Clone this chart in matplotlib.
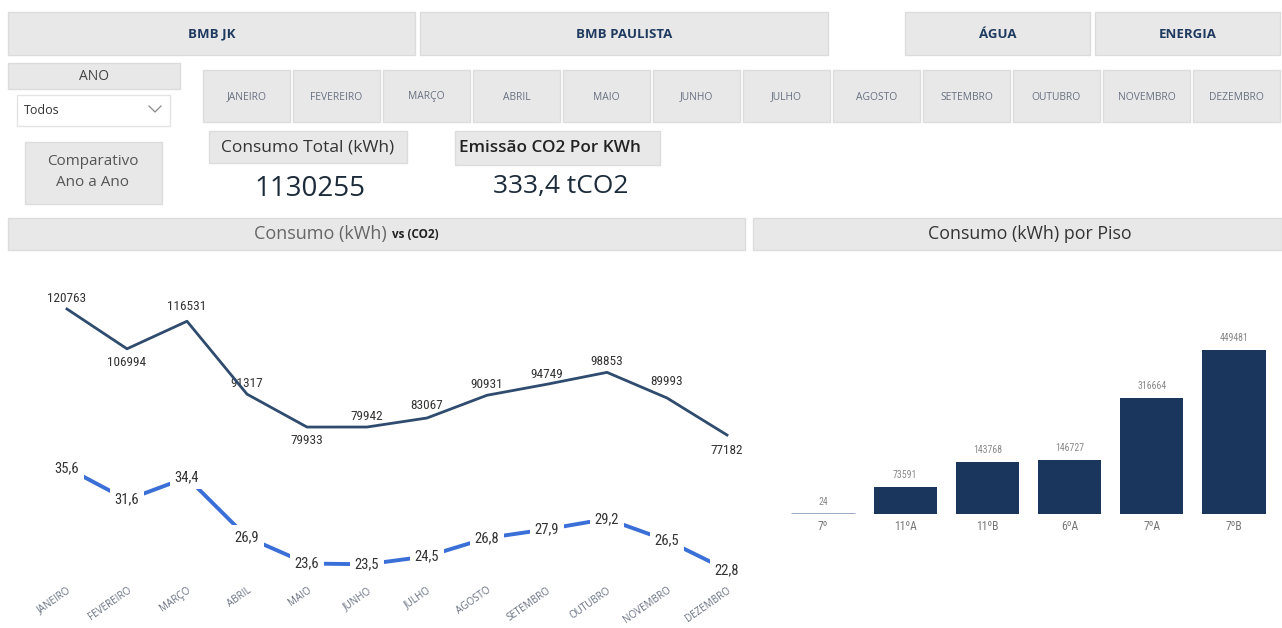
import matplotlib
matplotlib.use('Agg')
import matplotlib.pyplot as plt
from matplotlib.patches import Rectangle
from matplotlib import font_manager

# ---------------- data ----------------
months = ["JANEIRO", "FEVEREIRO", "MARÇO", "ABRIL", "MAIO", "JUNHO",
          "JULHO", "AGOSTO", "SETEMBRO", "OUTUBRO", "NOVEMBRO", "DEZEMBRO"]
consumo_kwh = [120763, 106994, 116531, 91317, 79933, 79942,
               83067, 90931, 94749, 98853, 89993, 77182]
co2 = [35.6, 31.6, 34.4, 26.9, 23.6, 23.5, 24.5, 26.8, 27.9, 29.2, 26.5, 22.8]
pisos = ["7º", "11ºA", "11ºB", "6ºA", "7ºA", "7ºB"]
consumo_piso = [24, 73591, 143768, 146727, 316664, 449481]
consumo_total = "1130255"
emissao_co2 = "333,4 tCO2"
locais = ["BMB JK", "BMB PAULISTA"]
tipos = ["ÁGUA", "ENERGIA"]

# ---------------- fonts ----------------
avail = {f.name for f in font_manager.fontManager.ttflist}
def pick(*names):
    for n in names:
        if n in avail:
            return n
    return 'DejaVu Sans'
NARROW = pick('Roboto Condensed', 'Liberation Sans Narrow', 'Open Sans Condensed', 'DejaVu Sans')
UI = pick('Open Sans', 'Noto Sans', 'DejaVu Sans')

W, H, DPI = 1282, 628, 100
fig = plt.figure(figsize=(W / DPI, H / DPI), dpi=DPI)
fig.patch.set_facecolor('white')

bg = fig.add_axes([0, 0, 1, 1])
bg.set_xlim(0, W)
bg.set_ylim(H, 0)
bg.axis('off')

BOX_FC = '#e8e8e8'
BOX_EC = '#dcdcdc'

def box(x0, y0, x1, y1, fc=BOX_FC, ec=BOX_EC, lw=1.0):
    bg.add_patch(Rectangle((x0, y0), x1 - x0, y1 - y0, facecolor=fc,
                           edgecolor=ec, linewidth=lw))

def px_axes(x0, y0, x1, y1):
    a = fig.add_axes([x0 / W, 1 - y1 / H, (x1 - x0) / W, (y1 - y0) / H])
    a.patch.set_alpha(0)
    return a

# ---------------- top buttons ----------------
NAVY_TXT = '#1f3a5f'
for (x0, x1), lab in zip([(8, 415), (420, 828)], locais):
    box(x0, 12, x1, 55)
    bg.text((x0 + x1) / 2, 34, lab, ha='center', va='center', fontsize=9.5,
            fontweight='bold', color=NAVY_TXT, family=UI)
for (x0, x1), lab in zip([(905, 1090), (1095, 1280)], tipos):
    box(x0, 12, x1, 55)
    bg.text((x0 + x1) / 2, 34, lab, ha='center', va='center', fontsize=9.5,
            fontweight='bold', color=NAVY_TXT, family=UI)

# ANO slicer
box(8, 63, 180, 89)
bg.text(94, 76, "ANO", ha='center', va='center', fontsize=10, color='#444', family=UI)
box(17, 95, 170, 126, fc='white', ec='#e4e4e4')
bg.text(24, 110.5, "Todos", ha='left', va='center', fontsize=9, color='#333', family=UI)
bg.plot([149, 155, 161], [106, 112, 106], color='#888', lw=0.9)

# month buttons
for i, m in enumerate(months):
    x0 = 203 + i * 90
    box(x0, 70, x0 + 87, 122)
    bg.text(x0 + 43.5, 97, m, ha='center', va='center', fontsize=7.4,
            color='#687080', family=UI)

# comparativo
box(25, 142, 162, 204)
bg.text(93, 172, "Comparativo\nAno a Ano", ha='center', va='center', fontsize=11,
        color='#555', family=UI, linespacing=1.55)

# KPI cards
box(209, 131, 407, 163)
bg.text(308, 147, "Consumo Total (kWh)", ha='center', va='center', fontsize=12.5,
        color='#333', family=UI)
bg.text(310, 189, consumo_total, ha='center', va='center', fontsize=20,
        color='#1c2b3a', family=UI)
box(455, 131, 660, 165)
bg.text(550, 148, "Emissão CO2 Por KWh", ha='center', va='center', fontsize=12.3,
        color='#222', family=UI, fontweight='semibold')
bg.text(561, 187, emissao_co2, ha='center', va='center', fontsize=19,
        color='#1c2b3a', family=UI)

# section headers
box(8, 218, 745, 250)
bg.text(387, 234, "Consumo (kWh)", ha='right', va='center', fontsize=13,
        color='#666', family=UI)
bg.text(392, 235, "vs (CO2)", ha='left', va='center', fontsize=8.5,
        color='#222', family=UI, fontweight='bold')
box(753, 218, 1282, 250)
bg.text(1030, 234, "Consumo (kWh) por Piso", ha='center', va='center', fontsize=12.8,
        color='#333', family=UI)

# ---------------- line chart ----------------
ax = px_axes(37, 280, 757, 585)
ax.set_xlim(-0.5, 11.5)
ax.set_ylim(25300, 130800)
x = list(range(len(months)))
ax.plot(x, consumo_kwh, color='#2f4b6e', lw=2.0, zorder=2)
up_offsets_px = [-11, 14, -15, -11, 13, -11, -12, -11, -10, -11, -16, 15]
for xi, v, off in zip(x, consumo_kwh, up_offsets_px):
    ax.annotate(f"{v}", (xi, v), xytext=(0, -off * 0.72), textcoords='offset points',
                ha='center', va='center', fontsize=9.5, color='#333', family=NARROW,
                zorder=1)
ax.set_xticks(x)
ax.set_xticklabels(months, rotation=35, ha='right', va='top', rotation_mode='anchor',
                   fontsize=7.1, color='#687080', family=UI)
ax.tick_params(axis='x', length=0, pad=0)
ax.set_yticks([])
for s in ax.spines.values():
    s.set_visible(False)

ax2 = ax.twinx()
ax2.set_ylim(20.9, 59.2)
ax2.plot(x, co2, color='#3a6fd8', lw=2.8, zorder=1, solid_capstyle='butt')
for xi, v in zip(x, co2):
    ax2.text(xi, v, f"{v:.1f}".replace('.', ','), ha='center', va='center',
             fontsize=10.5, color='#333', family=NARROW, zorder=3,
             bbox=dict(facecolor='white', edgecolor='none', pad=3.5))
ax2.set_yticks([])
for s in ax2.spines.values():
    s.set_visible(False)

# ---------------- bar chart ----------------
axb = px_axes(782, 330, 1275, 514)
axb.set_xlim(-0.5, 5.5)
axb.set_ylim(0, 504000)
bars = axb.bar(range(len(pisos)), consumo_piso, width=0.77, color='#1b365d')
bars[0].set_facecolor('#8fa2bf')
bars[0].set_edgecolor('#8fa2bf')
bars[0].set_linewidth(2.0)
axb.bar_label(bars, labels=[str(v) for v in consumo_piso], padding=5,
              fontsize=7, color='#888', family=NARROW)
axb.set_xticks(range(len(pisos)))
axb.set_xticklabels(pisos, fontsize=8.5, color='#777', family=NARROW)
axb.tick_params(axis='x', length=0, pad=4)
axb.set_yticks([])
for s in axb.spines.values():
    s.set_visible(False)

fig.savefig('out.png', dpi=DPI, facecolor='white')
